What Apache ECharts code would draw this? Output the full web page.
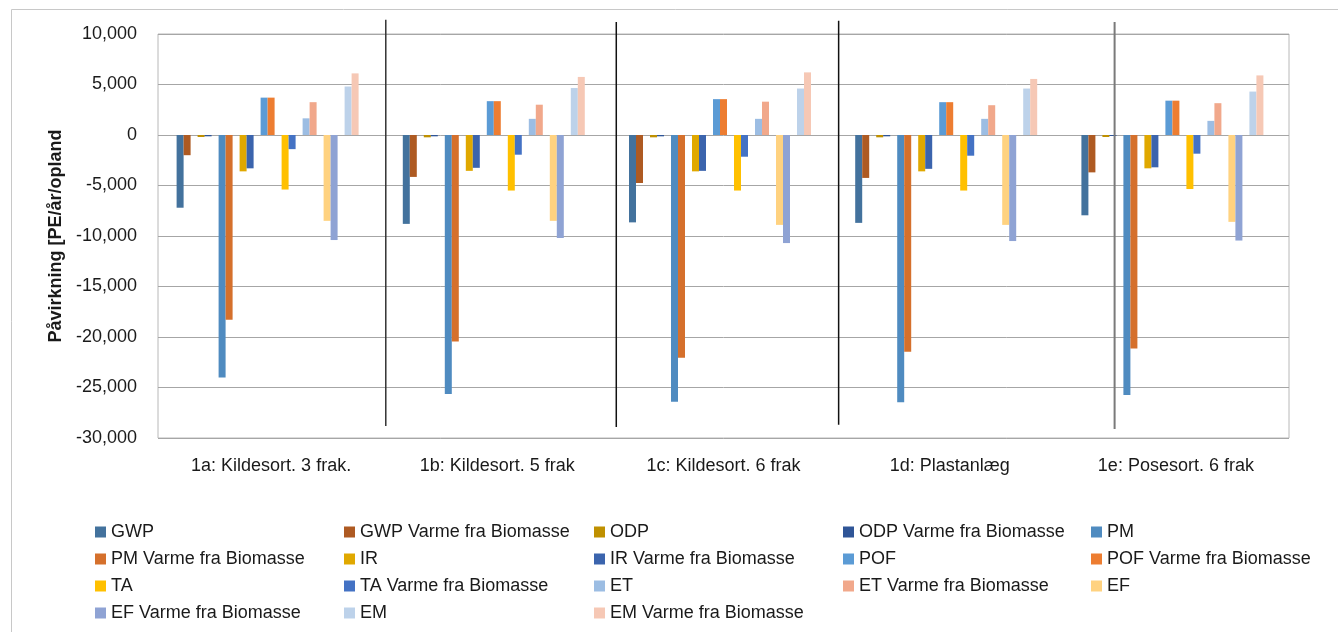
<!DOCTYPE html>
<html>
<head>
<meta charset="utf-8">
<script src="https://cdn.jsdelivr.net/npm/echarts@6/dist/echarts.min.js"></script>
<style>
html,body{margin:0;padding:0;background:#fff;}
#chart{width:1338px;height:632px;}
</style>
</head>
<body>
<div id="chart"></div>
<script>
// ---- data ----
const categories = ['1a: Kildesort. 3 frak.', '1b: Kildesort. 5 frak', '1c: Kildesort. 6 frak', '1d: Plastanlæg', '1e: Posesort. 6 frak'];
const yTicks = [-30000, -25000, -20000, -15000, -10000, -5000, 0, 5000, 10000];

const GWP   = [-7200, -8800, -8650, -8700, -7950];
const GWP_V = [-2000, -4150, -4750, -4250, -3700];
const ODP   = [-200, -230, -230, -230, -200];
const ODP_V = [-130, -130, -130, -130, -100];
const PM    = [-24000, -25650, -26400, -26450, -25750];
const PM_V  = [-18300, -20450, -22050, -21450, -21150];
const IR    = [-3600, -3550, -3600, -3600, -3300];
const IR_V  = [-3300, -3250, -3550, -3350, -3200];
const POF   = [3700, 3350, 3550, 3250, 3400];
const POF_V = [3700, 3350, 3550, 3250, 3400];
const TA    = [-5400, -5500, -5500, -5500, -5350];
const TA_V  = [-1400, -1950, -2150, -2050, -1850];
const ET    = [1650, 1600, 1600, 1600, 1400];
const ET_V  = [3250, 3000, 3300, 2950, 3150];
const EF    = [-8500, -8500, -8900, -8900, -8600];
const EF_V  = [-10400, -10200, -10700, -10500, -10450];
const EM    = [4800, 4650, 4600, 4600, 4300];
const EM_V  = [6100, 5750, 6200, 5550, 5900];

const seriesNames = ['GWP', 'GWP Varme fra Biomasse', 'ODP', 'ODP Varme fra Biomasse', 'PM', 'PM Varme fra Biomasse',
  'IR', 'IR Varme fra Biomasse', 'POF', 'POF Varme fra Biomasse', 'TA', 'TA Varme fra Biomasse',
  'ET', 'ET Varme fra Biomasse', 'EF', 'EF Varme fra Biomasse', 'EM', 'EM Varme fra Biomasse'];
const seriesValues = [GWP, GWP_V, ODP, ODP_V, PM, PM_V, IR, IR_V, POF, POF_V, TA, TA_V, ET, ET_V, EF, EF_V, EM, EM_V];

// ---- styles ----
const colors = ['#43729d', '#ae5a22', '#bf9000', '#2f5597', '#4f8bc0', '#d5702c',
  '#e0a800', '#3b64ad', '#5b9bd5', '#ed7d31', '#ffc000', '#4472c4',
  '#9cbde3', '#f1a88b', '#ffd280', '#8fa3d4', '#bdd2ea', '#f6c8b5'];
const FONT = 'Liberation Sans, Arial, sans-serif';
const TXT = '#1a1a1a';
// hand-drawn divider lines (in category units / value units)
const dividers = [
  {x: 1.007, top: 11400, bottom: -28800, color: '#333333', w: 1.5},
  {x: 2.026, top: 11200, bottom: -28900, color: '#111111', w: 1.5},
  {x: 3.009, top: 11300, bottom: -28700, color: '#111111', w: 1.5},
  {x: 4.229, top: 11200, bottom: -29100, color: '#7a7a7a', w: 2}
];

const series = [];
seriesNames.forEach((name, i) => {
  series.push({
    name: name, type: 'bar', data: seriesValues[i],
    barWidth: 7, barGap: '0%', barCategoryGap: '0%',
    itemStyle: {color: colors[i]},
    emphasis: {disabled: true}
  });
  if (i % 2 === 1) {
    // empty spacer slot between pairs (as in the source chart)
    series.push({
      name: '__gap' + i, type: 'bar', data: categories.map(() => null),
      barWidth: 7, barGap: '0%', silent: true
    });
  }
});

const legendLeft = [95, 344, 594, 843, 1091];
const legends = legendLeft.map((lx, c) => ({
  orient: 'vertical', left: lx, top: 523, padding: 0,
  itemWidth: 11, itemHeight: 11, itemGap: 9, icon: 'rect',
  selectedMode: false,
  data: seriesNames.filter((n, i) => i % 5 === c),
  textStyle: {fontFamily: FONT, fontSize: 18, lineHeight: 18, color: TXT}
}));

const chart = echarts.init(document.getElementById('chart'));
chart.setOption({
  animation: false,
  backgroundColor: '#fff',
  grid: {left: 158, right: 49, top: 34, bottom: 194, show: true, borderColor: '#b8b8b8', borderWidth: 1},
  legend: legends,
  xAxis: [{
    type: 'category', data: categories,
    axisLine: {show: false, onZero: false}, axisTick: {show: false},
    axisLabel: {fontFamily: FONT, fontSize: 18, color: TXT, margin: 19, interval: 0}
  }, {
    type: 'value', min: 0, max: 5, show: false
  }],
  yAxis: {
    type: 'value', min: yTicks[0], max: yTicks[yTicks.length - 1], interval: 5000,
    axisLine: {show: false}, axisTick: {show: false},
    splitLine: {lineStyle: {color: '#a6a6a6', width: 1}},
    axisLabel: {fontFamily: FONT, fontSize: 18, color: TXT, margin: 21,
      formatter: v => v.toLocaleString('en-US')},
    name: 'Påvirkning [PE/år/opland', nameLocation: 'middle', nameGap: 92,
    nameTextStyle: {fontFamily: FONT, fontSize: 18, fontWeight: 'bold', color: TXT}
  },
  series: series
});

// outer frame and divider lines, positioned through the axes' scales
const g = [{
  type: 'rect', left: 9, top: 7, silent: true,
  shape: {x: 0, y: 0, width: 1328, height: 640},
  style: {fill: 'none', stroke: '#c8c8c8', lineWidth: 1}
}];
dividers.forEach(d => {
  const px = chart.convertToPixel({xAxisIndex: 1}, d.x);
  const y0 = chart.convertToPixel({yAxisIndex: 0}, d.top);
  const y1 = chart.convertToPixel({yAxisIndex: 0}, d.bottom);
  g.push({type: 'line', silent: true, z: 100,
    shape: {x1: px, y1: y0, x2: px, y2: y1},
    style: {stroke: d.color, lineWidth: d.w}});
});
chart.setOption({graphic: g});
</script>
</body>
</html>
